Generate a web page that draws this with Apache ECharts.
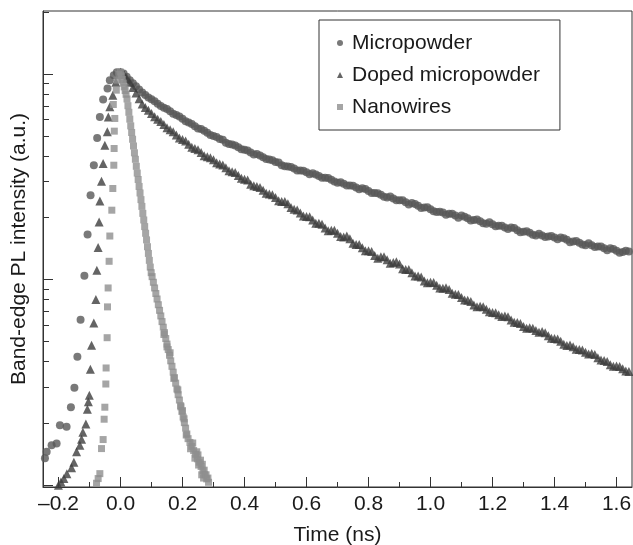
<!DOCTYPE html>
<html><head><meta charset="utf-8">
<script src="https://cdn.jsdelivr.net/npm/echarts@6/dist/echarts.min.js"></script>
<style>html,body{margin:0;padding:0;background:#fff}#c{width:633px;height:545px}</style>
</head><body><div id="c"></div>
<script>
// ---- data (time in ns, normalized PL intensity) ----
const seriesNames = ['Micropowder', 'Doped micropowder', 'Nanowires'];

const xMajorTicks = [-0.2, 0.0, 0.2, 0.4, 0.6, 0.8, 1.0, 1.2, 1.4, 1.6];
const xMinorTicks = [-0.1, 0.1, 0.3, 0.5, 0.7, 0.9, 1.1, 1.3, 1.5];
const yMajorTicks = [0.01, 0.1, 1];
const yMinorTicks = [0.02, 0.03, 0.04, 0.05, 0.06, 0.07, 0.08, 0.09, 0.2, 0.3, 0.4, 0.5, 0.6, 0.7, 0.8, 0.9, 2];

const microRiseT = [-0.2437,-0.2382,-0.2222,-0.2061,-0.1954,-0.1739,-0.1600,-0.1487,-0.1391,-0.1288,-0.1165,-0.1062,-0.0966,-0.0860,-0.0753,-0.0666,-0.0560,-0.0419,-0.0344,-0.0216,-0.0119];
const microRiseI = [0.0135,0.0145,0.0156,0.0159,0.0195,0.0192,0.0239,0.0297,0.0421,0.0638,0.1043,0.1656,0.2575,0.3603,0.489,0.6194,0.7529,0.8518,0.935,0.989,1.023];

const dopedRiseT = [-0.2003,-0.1922,-0.1826,-0.1729,-0.1578,-0.1504,-0.1417,-0.1310,-0.1256,-0.1214,-0.1117,-0.1069,-0.1037,-0.1005,-0.0972,-0.0934,-0.0860,-0.0795,-0.0763,-0.0721,-0.0689,-0.0666,-0.0612,-0.0560,-0.0505,-0.0425,-0.0393,-0.0344,-0.0248,-0.0151,-0.0071];
const dopedRiseI = [0.00995,0.01033,0.01074,0.01135,0.01211,0.01288,0.01449,0.0156,0.01667,0.01803,0.01982,0.02333,0.0254,0.0273,0.0366,0.0479,0.0615,0.0800,0.1110,0.1432,0.1908,0.2415,0.3012,0.3673,0.4510,0.5236,0.6194,0.6930,0.7902,0.9143,1.0];

const nanoRiseT = [-0.0773,-0.0721,-0.0666,-0.0612,-0.0560,-0.0528,-0.0505,-0.0473,-0.0464,-0.0431,-0.0419,-0.0399,-0.0367,-0.0344,-0.0280,-0.0248,-0.0216,-0.0206,-0.0200,-0.0184,-0.0232,-0.0135,-0.0103,-0.0055];
const nanoRiseI = [0.01019,0.01074,0.01135,0.01503,0.01663,0.02089,0.0239,0.0310,0.0371,0.0521,0.0736,0.0910,0.1227,0.1629,0.2176,0.2775,0.3603,0.4345,0.5278,0.6085,0.7116,0.8357,0.935,1.0];

const peakT = [0.01, 0.03, 0.05, 0.07];
const microPeakI = [1.007, 0.935, 0.873, 0.815];
const dopedPeakI = [0.999, 0.914, 0.809, 0.715];

const decayT = [0.00,0.02,0.04,0.06,0.08,0.10,0.12,0.14,0.16,0.18,0.20,0.22,0.24,0.26,0.28,0.30,0.32,0.34,0.36,0.38,0.40,0.42,0.44,0.46,0.48,0.50,0.52,0.54,0.56,0.58,0.60,0.62,0.64,0.66,0.68,0.70,0.72,0.74,0.76,0.78,0.80,0.82,0.84,0.86,0.88,0.90,0.92,0.94,0.96,0.98,1.00,1.02,1.04,1.06,1.08,1.10,1.12,1.14,1.16,1.18,1.20,1.22,1.24,1.26,1.28,1.30,1.32,1.34,1.36,1.38,1.40,1.42,1.44,1.46,1.48,1.50,1.52,1.54,1.56,1.58,1.60,1.62,1.64];
const microDecayI = [1.023,0.971,0.904,0.843,0.792,0.754,0.718,0.687,0.659,0.632,0.606,0.581,0.557,0.541,0.518,0.500,0.484,0.464,0.454,0.441,0.428,0.416,0.408,0.394,0.384,0.373,0.360,0.355,0.347,0.340,0.333,0.329,0.319,0.313,0.306,0.296,0.293,0.287,0.281,0.278,0.270,0.264,0.259,0.251,0.248,0.243,0.238,0.236,0.229,0.224,0.220,0.213,0.212,0.209,0.205,0.205,0.199,0.195,0.192,0.187,0.186,0.183,0.179,0.179,0.174,0.171,0.169,0.164,0.164,0.162,0.160,0.160,0.156,0.153,0.151,0.147,0.147,0.145,0.142,0.142,0.138,0.136,0.137];
const dopedDecayI = [1.023,0.955,0.860,0.760,0.689,0.644,0.603,0.568,0.536,0.506,0.480,0.456,0.434,0.415,0.396,0.383,0.365,0.350,0.335,0.321,0.308,0.291,0.284,0.272,0.261,0.251,0.240,0.234,0.220,0.211,0.203,0.195,0.188,0.178,0.174,0.168,0.161,0.158,0.148,0.143,0.138,0.131,0.129,0.125,0.121,0.119,0.112,0.108,0.104,0.0985,0.0971,0.0938,0.0906,0.0895,0.0847,0.0818,0.0793,0.0752,0.0741,0.0716,0.0692,0.0673,0.0665,0.0635,0.0617,0.0590,0.0582,0.0565,0.0558,0.0532,0.0516,0.0501,0.0478,0.0471,0.0456,0.0442,0.0437,0.0416,0.0404,0.0385,0.0379,0.0368,0.0357];

const halfT = [0.09,0.11,0.13,0.15,0.17,0.19,0.21,0.23,0.25,0.27,0.29,0.31,0.33,0.35,0.37,0.39,0.41,0.43,0.45,0.47,0.49,0.51,0.53,0.55,0.57,0.59,0.61,0.63,0.65,0.67,0.69,0.71,0.73,0.75,0.77,0.79,0.81,0.83,0.85,0.87,0.89,0.91,0.93,0.95,0.97,0.99,1.01,1.03,1.05,1.07,1.09,1.11,1.13,1.15,1.17,1.19,1.21,1.23,1.25,1.27,1.29,1.31,1.33,1.35,1.37,1.39,1.41,1.43,1.45,1.47,1.49,1.51,1.53,1.55,1.57,1.59,1.61,1.63];
const microHalfI = [0.770,0.739,0.700,0.676,0.641,0.622,0.590,0.572,0.543,0.530,0.505,0.494,0.479,0.457,0.450,0.431,0.425,0.406,0.402,0.386,0.381,0.371,0.356,0.353,0.340,0.339,0.326,0.325,0.313,0.312,0.300,0.298,0.287,0.286,0.275,0.276,0.264,0.263,0.253,0.254,0.243,0.243,0.232,0.233,0.223,0.225,0.215,0.214,0.207,0.209,0.200,0.202,0.194,0.196,0.188,0.190,0.182,0.183,0.176,0.178,0.170,0.172,0.165,0.167,0.161,0.163,0.157,0.159,0.152,0.154,0.148,0.150,0.144,0.145,0.139,0.141,0.135,0.138];
const dopedHalfI = [0.668,0.620,0.588,0.548,0.525,0.489,0.472,0.441,0.428,0.401,0.392,0.370,0.361,0.339,0.332,0.311,0.305,0.286,0.281,0.263,0.259,0.242,0.240,0.224,0.218,0.204,0.202,0.188,0.186,0.173,0.174,0.162,0.163,0.150,0.148,0.138,0.137,0.127,0.129,0.120,0.122,0.113,0.112,0.104,0.103,0.0965,0.0968,0.0910,0.0912,0.0858,0.0845,0.0795,0.0782,0.0738,0.0738,0.0696,0.0690,0.0660,0.0658,0.0619,0.0611,0.0579,0.0580,0.0554,0.0551,0.0518,0.0514,0.0484,0.0480,0.0458,0.0454,0.0434,0.0431,0.0406,0.0399,0.0378,0.0377,0.0359];

const nanoDecayT = [0.000,0.003,0.006,0.009,0.012,0.015,0.018,0.021,0.024,0.027,0.030,0.033,0.036,0.039,0.042,0.045,0.048,0.051,0.054,0.057,0.060,0.063,0.066,0.069,0.072,0.075,0.078,0.081,0.084,0.087,0.090,0.093,0.096,0.099,0.102,0.106,0.110,0.114,0.118,0.122,0.126,0.130,0.134,0.138,0.142,0.146,0.150,0.154,0.158,0.162,0.166,0.170,0.174,0.178,0.182,0.186,0.190,0.194,0.198,0.202,0.206,0.210,0.214,0.218,0.224,0.230,0.236,0.242,0.248,0.254,0.260,0.266,0.272,0.278,0.284];
const nanoDecayI = [1.023,0.982,0.942,0.904,0.867,0.832,0.798,0.757,0.702,0.652,0.604,0.560,0.520,0.482,0.447,0.414,0.385,0.356,0.330,0.307,0.284,0.264,0.245,0.227,0.210,0.195,0.181,0.168,0.156,0.1445,0.134,0.124,0.115,0.108,0.1033,0.0970,0.0910,0.0855,0.0804,0.0754,0.0708,0.0665,0.0624,0.0586,0.0551,0.0516,0.0485,0.0456,0.0428,0.0402,0.0378,0.0354,0.0333,0.0313,0.0293,0.0275,0.0259,0.0243,0.0228,0.0214,0.0201,0.0189,0.0177,0.0168,0.0161,0.0154,0.0147,0.0141,0.0134,0.0129,0.0123,0.0117,0.0112,0.0107,0.0103];
const nanoScatterT = [0.140,0.150,0.160,0.172,0.185,0.195,0.200,0.205,0.212,0.226,0.233,0.240,0.246,0.250,0.252,0.258,0.262,0.264,0.268,0.270,0.276,0.282];
const nanoScatterI = [0.0540,0.0470,0.0440,0.0330,0.0290,0.0240,0.0230,0.0210,0.0175,0.0150,0.0160,0.0135,0.0145,0.0140,0.0125,0.0132,0.0112,0.0126,0.0108,0.0118,0.0112,0.0108];

const yMin = 0.00977, yMax = 2.03;

// ---- chart ----
const FONT = "'Liberation Sans', Arial, Helvetica, sans-serif";
function pairs(t, v) { return t.map((x, i) => [x, v[i]]); }
const chart = echarts.init(document.getElementById('c'), null, { renderer: 'canvas' });
const axisColor = '#333';
const txt = { fontSize: 21, color: '#1a1a1a', fontFamily: FONT };

chart.setOption({
  animation: false,
  backgroundColor: '#fff',
  textStyle: { fontFamily: FONT },
  grid: { left: 43, right: 1, top: 11, bottom: 58, containLabel: false, outerBoundsMode: 'none',
    show: true, borderColor: axisColor, borderWidth: 1, backgroundColor: 'transparent' },
  legend: {
    orient: 'vertical', left: 319, top: 20,
    padding: [11, 20, 11, 18], itemGap: 8, itemWidth: 6, itemHeight: 6,
    borderColor: axisColor, borderWidth: 1, borderRadius: 0, backgroundColor: '#fff',
    textStyle: Object.assign({ lineHeight: 24, padding: [0, 0, 0, 4] }, txt),
    data: [
      { name: seriesNames[0], icon: 'circle' },
      { name: seriesNames[1], icon: 'triangle' },
      { name: seriesNames[2], icon: 'rect' }
    ]
  },
  xAxis: [
    {
      type: 'value', min: -0.25, max: 1.65, position: 'bottom',
      name: 'Time (ns)', nameLocation: 'middle', nameGap: 38, nameTextStyle: txt,
      axisLine: { show: true, onZero: false, lineStyle: { color: axisColor, width: 1 } },
      axisTick: { show: true, inside: true, length: 10, lineStyle: { color: axisColor }, customValues: xMajorTicks },
      axisLabel: { show: true, customValues: xMajorTicks, margin: 7, fontSize: 21, color: '#1a1a1a', fontFamily: FONT,
        formatter: v => (v < -1e-9 ? '\u2013' : '') + Math.abs(v).toFixed(1) },
      splitLine: { show: false }
    },
    {
      type: 'value', min: -0.25, max: 1.65, position: 'bottom',
      axisLine: { show: false, onZero: false },
      axisTick: { show: true, inside: true, length: 5, lineStyle: { color: axisColor }, customValues: xMinorTicks },
      axisLabel: { show: false }, splitLine: { show: false }
    }
  ],
  yAxis: [
    {
      type: 'log', logBase: 10, min: yMin, max: yMax, position: 'left',
      name: 'Band-edge PL intensity (a.u.)', nameLocation: 'middle', nameGap: 13, nameTextStyle: txt,
      axisLine: { show: true, onZero: false, lineStyle: { color: axisColor, width: 1 } },
      axisTick: { show: true, inside: true, length: 10, lineStyle: { color: axisColor }, customValues: yMajorTicks },
      axisLabel: { show: false }, splitLine: { show: false }
    },
    {
      type: 'log', logBase: 10, min: yMin, max: yMax, position: 'left',
      axisLine: { show: false, onZero: false },
      axisTick: { show: true, inside: true, length: 6, lineStyle: { color: axisColor }, customValues: yMinorTicks },
      axisLabel: { show: false }, splitLine: { show: false }
    }
  ],
  series: [
    {
      name: seriesNames[0], type: 'scatter', symbol: 'circle', symbolSize: 8,
      itemStyle: { color: '#575757' },
      data: [].concat(pairs(microRiseT, microRiseI), pairs(peakT, microPeakI), pairs(decayT, microDecayI), pairs(halfT, microHalfI))
    },
    {
      name: seriesNames[1], type: 'scatter', symbol: 'triangle', symbolSize: 9,
      itemStyle: { color: '#3d3d3d' },
      data: [].concat(pairs(dopedRiseT, dopedRiseI), pairs(peakT, dopedPeakI), pairs(decayT, dopedDecayI), pairs(halfT, dopedHalfI))
    },
    {
      name: seriesNames[2], type: 'scatter', symbol: 'rect', symbolSize: 7,
      itemStyle: { color: '#8f8f8f' },
      data: [].concat(pairs(nanoRiseT, nanoRiseI), pairs(nanoDecayT, nanoDecayI), pairs(nanoScatterT, nanoScatterI))
    }
  ]
});
</script></body></html>
